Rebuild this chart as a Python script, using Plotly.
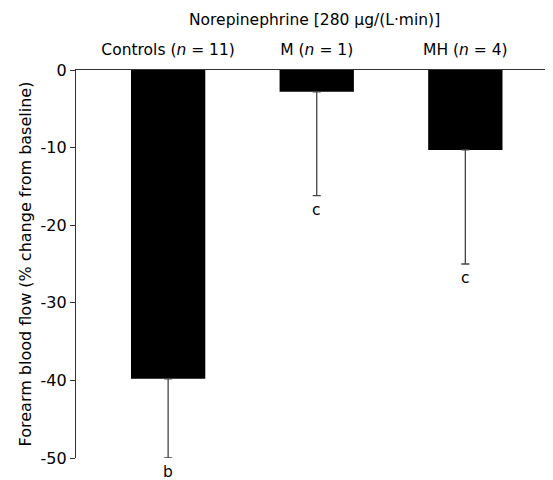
import plotly.graph_objects as go

groups = ["Controls (<i>n</i> = 11)", "M (<i>n</i> = 1)", "MH (<i>n</i> = 4)"]
means = [-39.8, -2.8, -10.3]
sem = [10.2, 13.4, 14.7]
sig = ["b", "c", "c"]
yticks = [0, -10, -20, -30, -40, -50]

xpos = list(range(len(groups)))
font = "DejaVu Sans, Verdana, sans-serif"

fig = go.Figure()
fig.add_trace(go.Bar(
    x=xpos, y=means, width=0.5,
    marker=dict(color="black", line=dict(width=0)),
    error_y=dict(type="data", symmetric=False, array=[0] * len(means),
                 arrayminus=sem, color="#444", thickness=1.3, width=4),
    showlegend=False,
))

for xi, m, s, t in zip(xpos, means, sem, sig):
    fig.add_annotation(x=xi, y=m - s, text=t, showarrow=False,
                       yanchor="top", yshift=-3, font=dict(size=15.5, color="black", family=font))

fig.add_annotation(x=0.5, xref="paper", y=1, yref="paper", yshift=50,
                   text="Norepinephrine [280 μg/(L·min)]", showarrow=False,
                   yanchor="middle", font=dict(size=15.5, color="black", family=font))

fig.update_layout(
    width=545, height=472,
    margin=dict(l=68, r=0, t=62, b=22),
    plot_bgcolor="white", paper_bgcolor="white",
    font=dict(family=font, color="black", size=15.5),
    xaxis=dict(side="top", range=[-0.62, 2.59], tickmode="array", tickvals=xpos,
               ticktext=groups, showline=True, linecolor="#333", linewidth=1.3,
               ticks="", showgrid=False, zeroline=False, tickfont=dict(size=15.5),
               automargin=False, ticklabelstandoff=8),
    yaxis=dict(range=[-50, 0], tickmode="array", tickvals=yticks,
               ticktext=[str(v) for v in yticks], showline=True, linecolor="#333",
               linewidth=1.3, ticks="outside", ticklen=5, tickcolor="#333",
               showgrid=False, zeroline=False, tickfont=dict(size=16),
               automargin=False,
               title=dict(text="Forearm blood flow (% change from baseline)",
                          font=dict(size=16), standoff=4)),
)

fig.write_html("out.html")
